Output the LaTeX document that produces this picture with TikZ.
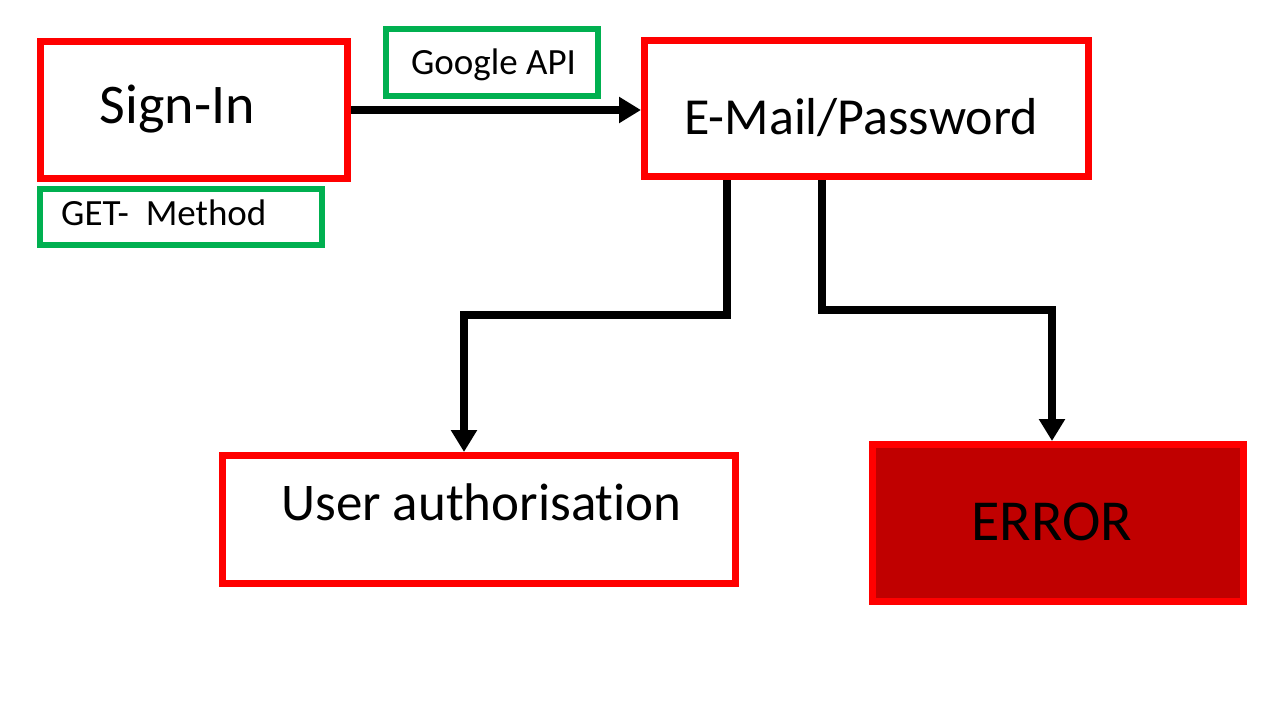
\documentclass[tikz,border=0pt]{standalone}
\usepackage{fontspec}
\setmainfont{Carlito}[Ligatures=NoCommon]
\usetikzlibrary{arrows.meta}
\definecolor{boxred}{HTML}{FF0000}
\definecolor{boxgreen}{HTML}{00B050}
\definecolor{errfill}{HTML}{C00000}
\tikzset{
  redbox/.style={draw=boxred, line width=7pt, rectangle, inner sep=0pt},
  greenbox/.style={draw=boxgreen, line width=6pt, rectangle, inner sep=0pt},
  lbl/.style={anchor=base, inner sep=0pt, text=black},
  conn/.style={line width=7.5pt, draw=black, -{Triangle[length=22pt,width=25pt]}}
}
\newcommand{\fs}[1]{\fontsize{#1pt}{#1pt}\selectfont}
\begin{document}
\begin{tikzpicture}[x=1pt,y=-1pt]
\useasboundingbox (0,0) rectangle (1280,720);
% boxes
\node[redbox, minimum width=307pt, minimum height=137pt] (signin) at (194,110) {};
\node[redbox, minimum width=444pt, minimum height=136pt] (email) at (866.5,108.5) {};
\node[redbox, minimum width=513pt, minimum height=128pt] (ua) at (479,519.5) {};
\node[redbox, fill=errfill, minimum width=371pt, minimum height=157pt] (err) at (1058,523) {};
\node[greenbox, minimum width=212pt, minimum height=67pt] (google) at (492,62.5) {};
\node[greenbox, minimum width=282pt, minimum height=56pt] (get) at (181,217) {};
% texts
\node[lbl] (tsignin) at (177.5,123) {\fs{56}Sign-In};
\node[lbl] (temail) at (861,134) {\fs{52}E-Mail/Password};
\node[lbl] (tua) at (481.5,520) {\fs{53}User authorisation};
\node[lbl] (terr) at (1052,540) {\fs{58}ERROR};
\node[lbl] (tgoogle) at (493.5,74) {\fs{37}Google API};
\node[lbl, anchor=base west] (tget) at (61,225) {\fs{37}GET-\ \ Method};
% connectors
\coordinate (j1) at (727,315);
\coordinate (j2) at (464,315);
\coordinate (j3) at (822,310);
\coordinate (j4) at (1052,310);
\draw[conn] (signin.east) -- (email.west |- signin.east);
\draw[conn] (email.south -| j1) -- (j1) -- (j2) -- (ua.north -| j2);
\draw[conn] (email.south -| j3) -- (j3) -- (j4) -- (err.north -| j4);
\end{tikzpicture}
\end{document}
